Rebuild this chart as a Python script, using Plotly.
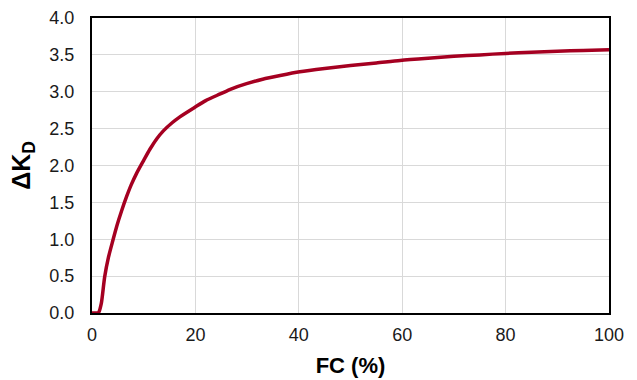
import plotly.graph_objects as go

fc = [0, 0.5, 1.0, 1.3, 1.8, 2.45, 3.2, 4.06, 4.8, 5.7, 6.7, 7.6, 8.6, 10.0, 11.2, 12.5, 13.8, 15.5, 17.0, 19.9, 22.0, 24.8, 27.0, 29.9, 33.0, 36.4, 40.2, 45.0, 50.0, 55.0, 59.6, 65.0, 70.0, 75.0, 80.0, 85.0, 90.0, 95.0, 100.0]
dkd = [0.0, 0.0, 0.0, 0.01, 0.13, 0.49, 0.76, 0.99, 1.18, 1.38, 1.58, 1.74, 1.89, 2.07, 2.22, 2.36, 2.47, 2.58, 2.66, 2.79, 2.88, 2.97, 3.04, 3.11, 3.17, 3.22, 3.27, 3.315, 3.355, 3.39, 3.425, 3.455, 3.48, 3.50, 3.52, 3.535, 3.55, 3.56, 3.57]

x_ticks = [0, 20, 40, 60, 80, 100]
y_ticks = [0.0, 0.5, 1.0, 1.5, 2.0, 2.5, 3.0, 3.5, 4.0]

fig = go.Figure()
fig.add_trace(go.Scatter(x=fc, y=dkd, mode="lines",
                         line=dict(color="#A50021", width=3.5, shape="spline", smoothing=0.7),
                         showlegend=False))

font_family = "Liberation Sans, Arial, sans-serif"
fig.update_layout(
    width=637, height=380,
    margin=dict(l=92, r=28, t=18, b=67),
    paper_bgcolor="white", plot_bgcolor="white",
    font=dict(family=font_family, color="#000000"),
    xaxis=dict(range=[0, 100], tickvals=x_ticks, ticktext=[str(v) for v in x_ticks],
               showgrid=True, gridcolor="#d9d9d9", gridwidth=1.3,
               showline=True, linecolor="black", linewidth=2, mirror=True,
               ticks="", zeroline=False, ticklabelstandoff=4, automargin=False,
               tickfont=dict(size=18, family=font_family, color="#1a1a1a"),
               title=dict(text="<b>FC (%)</b>", font=dict(size=22, family=font_family), standoff=14)),
    yaxis=dict(range=[0, 4.0], tickvals=y_ticks, ticktext=[f"{v:.1f}" for v in y_ticks],
               showgrid=True, gridcolor="#d9d9d9", gridwidth=1.3,
               showline=True, linecolor="black", linewidth=2, mirror=True,
               ticks="", zeroline=False, ticklabelstandoff=12, automargin=False,
               tickfont=dict(size=18, family=font_family, color="#1a1a1a"),
               title=dict(text="<b>ΔK<sub>D</sub></b>", font=dict(size=25, family=font_family), standoff=12)),
)

fig.write_html("out.html")
